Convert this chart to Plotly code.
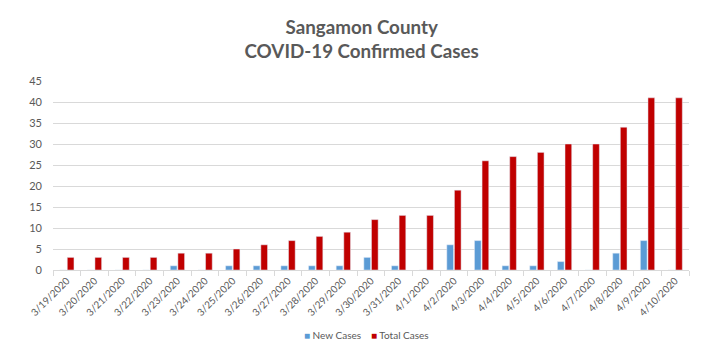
import plotly.graph_objects as go

dates = ["3/19/2020", "3/20/2020", "3/21/2020", "3/22/2020", "3/23/2020", "3/24/2020",
         "3/25/2020", "3/26/2020", "3/27/2020", "3/28/2020", "3/29/2020", "3/30/2020",
         "3/31/2020", "4/1/2020", "4/2/2020", "4/3/2020", "4/4/2020", "4/5/2020",
         "4/6/2020", "4/7/2020", "4/8/2020", "4/9/2020", "4/10/2020"]
new_cases = [0, 0, 0, 0, 1, 0, 1, 1, 1, 1, 1, 3, 1, 0, 6, 7, 1, 1, 2, 0, 4, 7, 0]
total_cases = [3, 3, 3, 3, 4, 4, 5, 6, 7, 8, 9, 12, 13, 13, 19, 26, 27, 28, 30, 30, 34, 41, 41]
series_names = ["New Cases", "Total Cases"]
series_colors = ["#5B9BD5", "#C00000"]

font_family = "Lato, 'Open Sans', sans-serif"
gray = "#595959"

fig = go.Figure()
fig.add_trace(go.Bar(x=dates, y=new_cases, name=series_names[0], marker_color=series_colors[0],
                     showlegend=False))
fig.add_trace(go.Bar(x=dates, y=total_cases, name=series_names[1], marker_color=series_colors[1],
                     showlegend=False))

# legend drawn as text annotations (compact, Excel-like)
legend_x = [0.391, 0.497]
for name, color, lx in zip(series_names, series_colors, legend_x):
    fig.add_annotation(
        text=f"<span style='color:{color}'>■</span> {name}",
        xref="paper", yref="paper", x=lx, y=-0.344, xanchor="left", yanchor="middle",
        showarrow=False, font=dict(size=10, color=gray, family=font_family))

fig.update_layout(
    width=719, height=355,
    margin=dict(l=53, r=30, t=81, b=85, autoexpand=False),
    paper_bgcolor="white", plot_bgcolor="white",
    font=dict(family=font_family, color=gray, size=10),
    title=dict(text="<b>Sangamon County<br>COVID-19 Confirmed Cases</b>",
               x=0.503, xanchor="center", y=0.905, yanchor="top",
               font=dict(size=18.8, color=gray, family=font_family)),
    barmode="group", bargap=0.45, bargroupgap=0.12,
    showlegend=False,
)
fig.update_xaxes(tickangle=-45, tickfont=dict(size=10, color=gray), automargin=False,
                 showline=True, linecolor="#D9D9D9", linewidth=1,
                 ticks="outside", tickson="boundaries", ticklen=5, tickcolor="#D9D9D9",
                 showgrid=False)
fig.update_yaxes(range=[0, 45], dtick=5, tickfont=dict(size=11, color=gray), automargin=False,
                 showgrid=True, gridcolor="#D9D9D9", gridwidth=1, zeroline=False,
                 ticks="", ticklabelstandoff=10)

fig.write_html("out.html", config={"displayModeBar": False},
               post_script="document.body.style.margin='0';")
